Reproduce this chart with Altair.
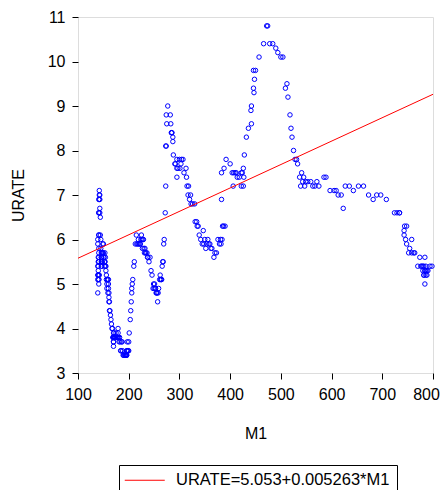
import altair as alt
import pandas as pd

# ---- data (monthly points, in order) ----
m1_59_64 = [139, 139, 140, 140, 141, 141, 141, 142, 141, 141, 141, 140,
            140, 139, 139, 139, 139, 140, 140, 141, 141, 141, 141, 141,
            141, 141, 142, 142, 142, 143, 143, 143, 143, 144, 144, 145,
            145, 146, 146, 147, 147, 147, 146, 146, 146, 147, 147, 148,
            148, 149, 149, 150, 150, 151, 151, 152, 152, 153, 153, 153,
            154, 154, 155, 155, 156, 156, 157, 157, 158, 159, 159, 160]
urate_59_64 = [6.0, 5.9, 5.6, 5.2, 5.1, 5.0, 5.1, 5.2, 5.5, 5.7, 5.8, 5.3,
               5.2, 4.8, 5.4, 5.2, 5.1, 5.4, 5.5, 5.6, 5.5, 6.1, 6.1, 6.6,
               6.6, 6.9, 6.9, 7.0, 7.1, 6.9, 7.0, 6.6, 6.7, 6.5, 6.1, 6.0,
               5.8, 5.5, 5.6, 5.6, 5.5, 5.5, 5.4, 5.7, 5.6, 5.4, 5.7, 5.5,
               5.7, 5.9, 5.7, 5.7, 5.9, 5.6, 5.6, 5.4, 5.5, 5.5, 5.7, 5.5,
               5.6, 5.4, 5.4, 5.3, 5.1, 5.2, 4.9, 5.0, 5.1, 5.1, 4.8, 5.0]

m1_65_70 = [160, 160, 161, 161, 161, 162, 162, 163, 164, 165, 166, 167,
            168, 169, 169, 170, 170, 170, 170, 170, 170, 170, 170, 171,
            171, 172, 173, 173, 174, 175, 176, 177, 178, 179, 179, 180,
            181, 182, 183, 184, 185, 186, 187, 188, 189, 190, 192, 193,
            194, 195, 195, 196, 196, 196, 197, 197, 197, 200, 200, 199,
            201, 203, 204, 205, 206, 206, 207, 208, 210, 211, 213, 215]
urate_65_70 = [4.9, 5.1, 4.7, 4.8, 4.6, 4.6, 4.4, 4.4, 4.3, 4.2, 4.1, 4.0,
               4.0, 3.8, 3.8, 3.8, 3.9, 3.8, 3.8, 3.8, 3.7, 3.7, 3.6, 3.8,
               3.9, 3.8, 3.8, 3.8, 3.8, 3.9, 3.8, 3.8, 3.8, 4.0, 3.9, 3.8,
               3.7, 3.8, 3.7, 3.5, 3.5, 3.7, 3.7, 3.5, 3.4, 3.4, 3.4, 3.4,
               3.4, 3.4, 3.4, 3.4, 3.4, 3.5, 3.5, 3.5, 3.7, 3.7, 3.5, 3.5,
               3.9, 4.2, 4.4, 4.6, 4.8, 4.9, 5.0, 5.1, 5.4, 5.5, 5.9, 6.1]

m1_71_76 = [216, 218, 219, 220, 222, 223, 224, 225, 226, 227, 228, 229,
            230, 231, 232, 233, 234, 236, 237, 238, 240, 242, 244, 246,
            248, 249, 250, 251, 252, 253, 254, 255, 256, 257, 258, 259,
            261, 262, 263, 264, 265, 266, 267, 268, 269, 270, 272, 273,
            273, 274, 275, 274, 277, 282, 283, 284, 285, 285, 287, 287,
            288, 291, 295, 292, 295, 297, 295, 300, 301, 303, 304, 307]
urate_71_76 = [5.9, 5.9, 6.0, 5.9, 5.9, 5.9, 6.0, 6.1, 6.0, 5.8, 6.0, 6.0,
               5.8, 5.7, 5.8, 5.7, 5.7, 5.7, 5.6, 5.6, 5.5, 5.6, 5.3, 5.2,
               4.9, 5.0, 4.9, 5.0, 4.9, 4.9, 4.8, 4.8, 4.8, 4.6, 4.8, 4.9,
               5.1, 5.2, 5.1, 5.1, 5.1, 5.4, 5.5, 5.5, 5.9, 6.0, 6.6, 7.2,
               8.1, 8.1, 8.6, 8.8, 9.0, 8.8, 8.6, 8.4, 8.4, 8.4, 8.3, 8.2,
               7.9, 7.7, 7.6, 7.7, 7.4, 7.6, 7.8, 7.8, 7.6, 7.7, 7.8, 7.8]

m1_77_82 = [309, 313, 314, 315, 317, 318, 320, 322, 323, 326, 330, 331,
            334, 335, 337, 339, 342, 345, 347, 348, 350, 352, 354, 356,
            358, 360, 362, 364, 368, 370, 373, 376, 379, 381, 382, 384,
            385, 387, 390, 383, 383, 388, 392, 400, 404, 407, 410, 406,
            412, 414, 418, 422, 422, 424, 426, 427, 426, 428, 432, 436,
            442, 441, 442, 447, 446, 448, 446, 450, 457, 466, 472, 474]
urate_77_82 = [7.5, 7.6, 7.4, 7.2, 7.0, 7.2, 6.9, 7.0, 6.8, 6.8, 6.8, 6.4,
               6.4, 6.3, 6.3, 6.1, 6.0, 5.9, 6.2, 5.9, 6.0, 5.8, 5.9, 6.0,
               5.9, 5.9, 5.8, 5.8, 5.6, 5.7, 5.7, 6.0, 5.9, 6.0, 5.9, 6.0,
               6.3, 6.3, 6.3, 6.9, 7.5, 7.6, 7.8, 7.7, 7.5, 7.5, 7.5, 7.2,
               7.5, 7.4, 7.4, 7.2, 7.5, 7.5, 7.2, 7.4, 7.6, 7.9, 8.3, 8.5,
               8.6, 8.9, 9.0, 9.3, 9.4, 9.6, 9.8, 9.8, 10.1, 10.4, 10.8, 10.8]

m1_83_89 = [478, 484, 490, 494, 500, 504, 509, 512, 514, 518, 520, 522,
            525, 528, 531, 533, 537, 539, 541, 543, 545, 549, 547, 553,
            559, 563, 567, 571, 575, 585, 589, 597, 605, 609, 613, 619,
            623, 627, 635, 643, 653, 663, 673, 682, 689, 697, 708, 724,
            729, 734, 734, 744, 748, 743, 743, 746, 748, 758, 754, 752,
            758, 762, 764, 770, 774, 776, 778, 784, 780, 782, 784, 786,
            786, 782, 784, 780, 782, 784, 786, 788, 788, 790, 794, 798]
urate_83_89 = [10.4, 10.4, 10.3, 10.2, 10.1, 10.1, 9.4, 9.5, 9.2, 8.8, 8.5, 8.3,
               8.0, 7.8, 7.8, 7.7, 7.4, 7.2, 7.5, 7.3, 7.4, 7.3, 7.2, 7.3,
               7.3, 7.2, 7.2, 7.3, 7.2, 7.4, 7.4, 7.1, 7.1, 7.1, 7.0, 7.0,
               6.7, 7.2, 7.2, 7.1, 7.2, 7.2, 7.0, 6.9, 7.0, 7.0, 6.9, 6.6,
               6.6, 6.6, 6.6, 6.3, 6.3, 6.2, 6.1, 6.0, 5.9, 6.0, 5.8, 5.7,
               5.7, 5.7, 5.7, 5.4, 5.6, 5.4, 5.4, 5.6, 5.4, 5.4, 5.3, 5.3,
               5.4, 5.2, 5.0, 5.3, 5.2, 5.3, 5.2, 5.2, 5.3, 5.3, 5.4, 5.4]

# regression shown in the legend
fit_intercept = 5.053
fit_slope = 0.005263
fit_label = "URATE=5.053+0.005263*M1"

x_domain = [100, 800]
y_domain = [3, 11]
x_ticks = [100, 200, 300, 400, 500, 600, 700, 800]
y_ticks = [3, 4, 5, 6, 7, 8, 9, 10, 11]

# ---- tables ----
points = pd.DataFrame({
    "M1": m1_59_64 + m1_65_70 + m1_71_76 + m1_77_82 + m1_83_89,
    "URATE": urate_59_64 + urate_65_70 + urate_71_76 + urate_77_82 + urate_83_89,
})
fit = pd.DataFrame({
    "M1": x_domain,
    "URATE": [fit_intercept + fit_slope * v for v in x_domain],
    "series": [fit_label, fit_label],
})

FONT = "Liberation Sans"
x_scale = alt.Scale(domain=x_domain, nice=False, zero=False)
y_scale = alt.Scale(domain=y_domain, nice=False, zero=False)

x_axis = alt.Axis(values=x_ticks, grid=False, domain=False, ticks=True,
                  tickColor="black", tickSize=6, labelFontSize=16,
                  labelColor="black", labelPadding=7, labelFont=FONT,
                  labelFlush=False,
                  labelOffset={"condition": {"test": "datum.value == 800",
                                             "value": -7},
                               "value": 0},
                  title="M1", titleFont=FONT, titleFontSize=16,
                  titleFontWeight="normal", titleColor="black",
                  titleY=65, titleBaseline="alphabetic")
y_axis = alt.Axis(values=y_ticks, grid=False, domain=False, ticks=True,
                  tickColor="black", tickSize=6, labelFontSize=16,
                  labelColor="black", labelPadding=7, labelFont=FONT,
                  labelFlush=False,
                  title="URATE", titleFont=FONT, titleFontSize=16,
                  titleFontWeight="normal", titleColor="black",
                  titleAngle=270, titleX=-55, titleY=178,
                  titleAlign="center", titleBaseline="alphabetic")

scatter = alt.Chart(points).mark_point(
    shape="circle", filled=False, color="#0000FF", size=20,
    strokeWidth=1, opacity=1
).encode(
    x=alt.X("M1:Q", scale=x_scale, axis=x_axis),
    y=alt.Y("URATE:Q", scale=y_scale, axis=y_axis),
)

line = alt.Chart(fit).mark_line(strokeWidth=1).encode(
    x=alt.X("M1:Q", scale=x_scale),
    y=alt.Y("URATE:Q", scale=y_scale),
    color=alt.Color("series:N",
                    scale=alt.Scale(domain=[fit_label], range=["#FF0000"]),
                    legend=alt.Legend(title=None, orient="none",
                                      legendX=41, legendY=448,
                                      symbolType="M-4,0H4",
                                      symbolSize=100,
                                      symbolStrokeWidth=1,
                                      symbolOffset=10.5,
                                      labelFontSize=16.5, labelFont=FONT,
                                      labelColor="black", labelLimit=400,
                                      labelOffset=23, strokeColor="black",
                                      padding=7)),
)

chart = alt.layer(scatter, line).properties(
    width=355, height=356,
    autosize=alt.AutoSizeParams(type="none"),
    padding={"left": 70, "top": 9, "right": 7, "bottom": 117},
).configure_view(stroke="black", strokeWidth=1).configure(font=FONT)

chart.save("out.html", embed_options={"renderer": "svg", "actions": False})
